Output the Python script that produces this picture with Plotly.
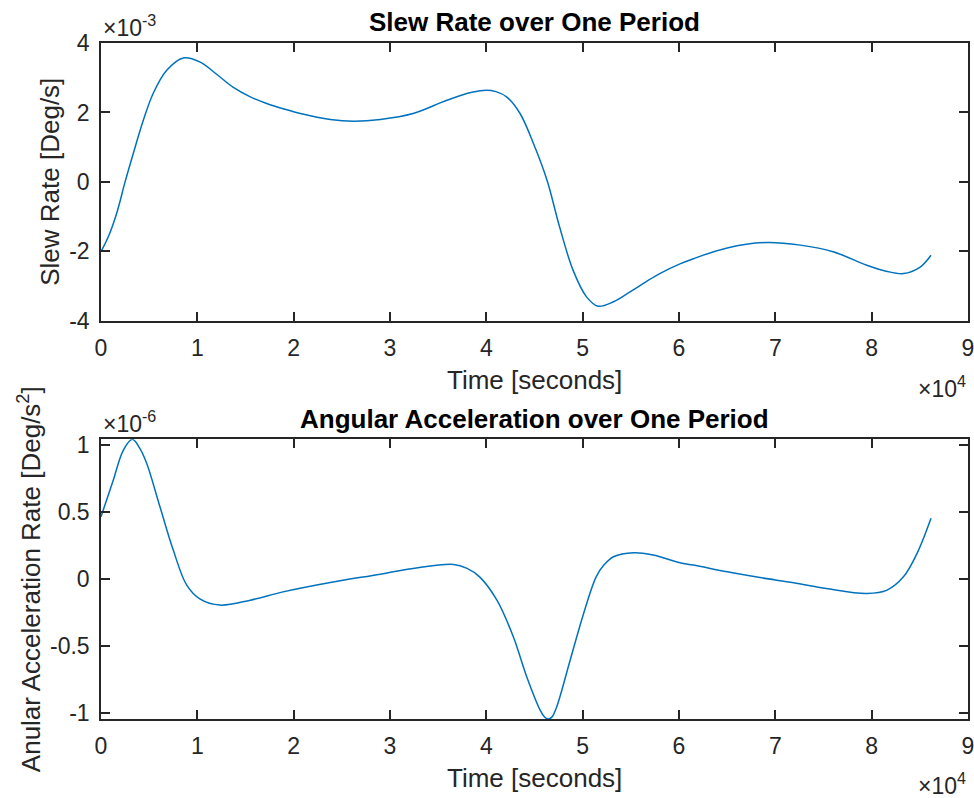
import numpy as np
import plotly.graph_objects as go
from plotly.subplots import make_subplots

# time in units of 1e4 s, slew rate in 1e-3 deg/s, acceleration in 1e-6 deg/s^2
slew_t = [0.00, 0.08, 0.163, 0.25, 0.335, 0.44, 0.54, 0.68, 0.855, 1.03, 1.20, 1.37,
          1.55, 1.72, 1.90, 2.07, 2.38, 2.62, 2.90, 3.24, 3.59, 3.85, 4.00, 4.10,
          4.21, 4.35, 4.49, 4.63, 4.76, 4.90, 5.04, 5.16, 5.32, 5.50, 5.66, 5.80,
          6.01, 6.15, 6.50, 6.91, 7.26, 7.60, 7.95, 8.15, 8.33, 8.50, 8.616]
slew_rate = [-2.01, -1.55, -0.90, 0.00, 0.82, 1.78, 2.54, 3.21, 3.57, 3.45, 3.10, 2.73,
             2.45, 2.26, 2.10, 1.97, 1.80, 1.75, 1.80, 1.97, 2.35, 2.58, 2.64, 2.60,
             2.45, 1.97, 1.10, 0.05, -1.29, -2.54, -3.31, -3.58, -3.45, -3.15, -2.87, -2.64,
             -2.36, -2.21, -1.90, -1.745, -1.82, -2.01, -2.40, -2.57, -2.64, -2.46, -2.11]

acc_t = [0.00, 0.128, 0.23, 0.325, 0.40, 0.474, 0.612, 0.75, 0.89, 1.03, 1.235, 1.55,
         1.89, 2.38, 2.90, 3.24, 3.66, 3.80, 3.93, 4.11, 4.28, 4.42, 4.56, 4.60, 4.64,
         4.68, 4.73, 4.87, 5.01, 5.14, 5.22, 5.32, 5.53, 5.73, 6.01, 6.15, 6.50, 6.84, 7.19,
         7.53, 7.95, 8.16, 8.33, 8.47, 8.616]
acc_rate = [0.466, 0.74, 0.96, 1.044, 0.98, 0.865, 0.54, 0.217, -0.045, -0.15, -0.194, -0.157,
            -0.095, -0.025, 0.037, 0.08, 0.11, 0.08, 0.017, -0.157, -0.43, -0.73, -0.98, -1.025, -1.044,
            -1.03, -0.954, -0.605, -0.256, 0.017, 0.105, 0.167, 0.197, 0.18, 0.122, 0.105, 0.055, 0.012,
            -0.027, -0.07, -0.107, -0.082, 0.017, 0.19, 0.454]

x_ticks = [0, 1, 2, 3, 4, 5, 6, 7, 8, 9]
slew_ticks = [-4, -2, 0, 2, 4]
acc_ticks = [-1, -0.5, 0, 0.5, 1]

t1 = np.array(slew_t) * 1e4
y1 = np.array(slew_rate) * 1e-3
t2 = np.array(acc_t) * 1e4
y2 = np.array(acc_rate) * 1e-6

INK = "#262626"
FONT = "Liberation Sans, Arial, sans-serif"

fig = make_subplots(rows=2, cols=1, vertical_spacing=0.0)
fig.add_trace(go.Scatter(x=t1, y=y1, mode="lines", line=dict(color="#0072BD", width=1.5, shape="spline"),
                         showlegend=False), row=1, col=1)
fig.add_trace(go.Scatter(x=t2, y=y2, mode="lines", line=dict(color="#0072BD", width=1.5, shape="spline"),
                         showlegend=False), row=2, col=1)

axis_style = dict(showline=True, linecolor=INK, linewidth=1.5, mirror="ticks", ticks="inside",
                  ticklen=9, tickwidth=1.5, tickcolor=INK, showgrid=False, zeroline=False,
                  automargin=False, ticklabeloverflow="allow",
                  tickfont=dict(size=23, color=INK, family=FONT))

xt = [v * 1e4 for v in x_ticks]
fig.update_xaxes(axis_style, range=[0, 9e4], tickvals=xt, ticktext=[str(v) for v in x_ticks],
                 ticklabelstandoff=6)
fig.update_yaxes(axis_style, ticklabelstandoff=5)
fig.update_yaxes(domain=[0.589, 1.0], range=[-4e-3, 4e-3], tickvals=[v * 1e-3 for v in slew_ticks],
                 ticktext=[str(v) for v in slew_ticks], row=1, col=1)
fig.update_yaxes(domain=[0.0, 0.4138], range=[min(y2), max(y2)], tickvals=[v * 1e-6 for v in acc_ticks],
                 ticktext=[str(v) for v in acc_ticks], row=2, col=1)

ann = []
def label(text, xref, yref, x, y, size, xanchor="center", yanchor="middle", angle=0, bold=False, color=INK):
    if bold:
        text = "<b>" + text + "</b>"
    ann.append(dict(text=text, xref=xref, yref=yref, x=x, y=y, xanchor=xanchor, yanchor=yanchor,
                    textangle=angle, showarrow=False, font=dict(size=size, color=color, family=FONT)))

# titles
label("Slew Rate over One Period", "x domain", "y domain", 0.5, 1.0745, 26, bold=True, color="#000")
label("Angular Acceleration over One Period", "x2 domain", "y2 domain", 0.5, 1.0727, 26, bold=True, color="#000")
# x labels
label("Time [seconds]", "x domain", "y domain", 0.5, -0.213, 26)
label("Time [seconds]", "x2 domain", "y2 domain", 0.5, -0.212, 26)
# y labels
label("Slew Rate [Deg/s]", "x domain", "y domain", -0.059, 0.5, 26, angle=-90)
label("Anular Acceleration Rate [Deg/s<sup>2</sup>]", "x2 domain", "y2 domain", -0.083, 0.5, 26, angle=-90)
# exponent labels
label("×10<sup>-3</sup>", "x domain", "y domain", 0.0, 1.0, 23, xanchor="left", yanchor="bottom")
label("×10<sup>-6</sup>", "x2 domain", "y2 domain", 0.0, 1.0, 23, xanchor="left", yanchor="bottom")
label("×10<sup>4</sup>", "x domain", "y domain", 1.0, -0.237, 23, xanchor="right")
label("×10<sup>4</sup>", "x2 domain", "y2 domain", 1.0, -0.234, 23, xanchor="right")

fig.update_layout(width=974, height=798, margin=dict(l=101, r=6, t=43, b=79),
                  paper_bgcolor="white", plot_bgcolor="white", annotations=ann,
                  font=dict(family=FONT, color=INK))

# drop the default 8px body margin so the figure fills the window exactly
fig.write_html("out.html", config={"displayModeBar": False},
               post_script="document.body.style.margin='0';document.body.style.overflow='hidden';")
